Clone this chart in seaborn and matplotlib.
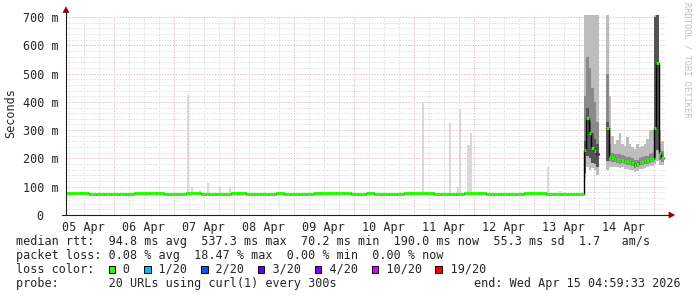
import matplotlib
matplotlib.use("Agg")
import matplotlib.pyplot as plt
import numpy as np
import pandas as pd
import seaborn as sns
from matplotlib.patches import Rectangle, Polygon
from matplotlib.lines import Line2D

nan = np.nan

# ---------------- data ----------------
# hours since start of window (2026-04-05 04:59:33), 10 days shown
base_hours = list(range(0, 207, 3))
base_med = [79, 79, 78, 75, 74, 75, 76, 75, 76, 77, 77, 78,
            77, 76, 75, 76, 77, 77, 76, 75, 76, 76, 78, 77,
            76, 74, 75, 76, 77, 76, 75, 75, 76, 77, 77, 78,
            78, 77, 76, 76, 77, 76, 75, 75, 76, 77, 78, 77,
            77, 76, 75, 76, 76, 77, 78, 77, 76, 75, 74, 75,
            76, 77, 78, 77, 76, 75, 76, 75, 75]

# isolated smoke spikes during the quiet period
spike_hours = [48.7, 50.3, 53.6, 56.7, 61.6, 65.6, 142.7, 153.6, 156.7,
               157.6, 160.9, 161.9, 192.7, 197.6]
spike_tops = [424, 100, 88, 113, 100, 100, 397, 324, 100, 374, 247, 291, 171, 85]

# hourly bins of the disturbed period
post_hours = list(range(207, 239))
post_med = [230, 343, 290, 237, 227, 215, nan, nan, nan, 307,
            204, 200, 198, 196, 194, 196, 192, 190, 188, 185, 177, 180,
            187, 189, 191, 193, 197, 199,
            307, 538, 219, 200]
post_lo = [130, 170, 160, 165, 160, 140, nan, nan, nan, 160,
           168, 170, 168, 168, 166, 168, 164, 162, 160, 158, 152, 156,
           162, 164, 166, 168, 172, 172,
           180, 190, 175, 178]
post_q1 = [175, 250, 220, 205, 200, 185, nan, nan, nan, 220,
           190, 188, 186, 184, 182, 184, 180, 178, 176, 173, 166, 169,
           175, 177, 179, 181, 185, 187,
           260, 300, 195, 188]
post_q3 = [420, 560, 520, 450, 400, 330, nan, nan, nan, 500,
           250, 218, 214, 214, 214, 212, 208, 206, 204, 200, 194, 196,
           202, 206, 208, 210, 216, 220,
           600, 680, 250, 225]
post_hi = [710, 710, 710, 710, 710, 710, nan, nan, nan, 710,
           420, 280, 250, 265, 290, 250, 245, 275, 250, 240, 235, 250,
           240, 245, 250, 270, 300, 300,
           710, 710, 300, 260]
core_lo = [150, 210, 200, 185, 180, 170, nan, nan, nan, 190] + [nan] * 18 + [200, 230, nan, nan]
core_hi = [260, 380, 330, 290, 270, 250, nan, nan, nan, 330] + [nan] * 18 + [700, 710, nan, nan]
post_loss = [0, 0, 0, 0, 0, 4, 0, 0, 0, 0] + [0] * 18 + [0, 0, 0, 0]

loss_labels = ["0", "1/20", "2/20", "3/20", "4/20", "10/20", "19/20"]
loss_colors = ["#26ff00", "#00b8ff", "#0059ff", "#5e00ff", "#7e00ff", "#dd00ff", "#ff0000"]

day_labels = ["05 Apr", "06 Apr", "07 Apr", "08 Apr", "09 Apr",
              "10 Apr", "11 Apr", "12 Apr", "13 Apr", "14 Apr"]
y_ticks = [0, 100, 200, 300, 400, 500, 600, 700]
y_labels = ["0  ", "100 m", "200 m", "300 m", "400 m", "500 m", "600 m", "700 m"]

stats_lines = [
    "median rtt:  94.8 ms avg  537.3 ms max  70.2 ms min  190.0 ms now  55.3 ms sd  1.7   am/s",
    "packet loss: 0.08 % avg  18.47 % max  0.00 % min  0.00 % now",
]
probe_line = "probe:       20 URLs using curl(1) every 300s"
end_line = "end: Wed Apr 15 04:59:33 2026"
first_midnight = 19.0075  # hours from window start to 06 Apr 00:00

# ---------------- style ----------------
sns.set_style("white")
MONO = ["DejaVu Sans Mono"]
plt.rcParams["font.family"] = MONO
FS = 8.5

W, H = 697, 297
fig = plt.figure(figsize=(W / 100, H / 100), dpi=100)
fig.patch.set_facecolor("white")
L, R, T, B = 66, 666, 15, 215
ax = fig.add_axes([L / W, 1 - B / H, (R - L) / W, (B - T) / H])
ax.set_facecolor("white")
ax.set_xlim(0, 240)
ax.set_ylim(0, 707)
for s in ax.spines.values():
    s.set_visible(False)

dot = (0, (1.4, 1.4))
# grid
mids = [first_midnight + 24 * k for k in range(10)]
six = [first_midnight - 18 + 6 * j for j in range(41)]
for x in six:
    if 0 < x < 240 and all(abs(x - m) > 0.1 for m in mids):
        ax.vlines(x, 0, 700, color="#dedede", lw=0.72, ls=dot, zorder=0)
for y in range(20, 701, 20):
    if y % 100:
        ax.hlines(y, 0, 240, color="#dedede", lw=0.72, ls=dot, zorder=0)
for x in mids:
    ax.vlines(x, 0, 700, color="#e8c0c0", lw=0.72, ls=dot, zorder=0.5)
for y in range(100, 701, 100):
    ax.hlines(y, 0, 240, color="#e8c0c0", lw=0.72, ls=dot, zorder=0.5)

# smoke
ax.bar(spike_hours, np.array(spike_tops) - 78, bottom=78, width=1.0,
       color="#d8d8d8", linewidth=0, zorder=2)
lo = np.array(post_lo, float); hi = np.array(post_hi, float)
q1 = np.array(post_q1, float); q3 = np.array(post_q3, float)
cl = np.array(core_lo, float); ch = np.array(core_hi, float)
ax.bar(post_hours, hi - lo, bottom=lo, width=1.0, align="edge", color="#bdbdbd", linewidth=0, zorder=2)
ax.bar(post_hours, q3 - q1, bottom=q1, width=1.0, align="edge", color="#8a8a8a", linewidth=0, zorder=2.1)
ax.bar(post_hours, ch - cl, bottom=cl, width=1.0, align="edge", color="#555555", linewidth=0, zorder=2.2)

# median: black step connectors
seg0_h = base_hours + post_hours[:6] + [213]
seg0_v = base_med + post_med[:6] + [post_med[5]]
seg1_h = post_hours[9:] + [239]
seg1_v = post_med[9:] + [post_med[-1]]
df = pd.DataFrame({"h": seg0_h + seg1_h, "ms": seg0_v + seg1_v,
                   "seg": [0] * len(seg0_h) + [1] * len(seg1_h)})
sns.lineplot(data=df, x="h", y="ms", units="seg", estimator=None, color="black",
             lw=1.0, drawstyle="steps-post", ax=ax, zorder=3, legend=False)
# green (loss coloured) plateaus
ax.hlines(base_med, base_hours, np.array(base_hours) + 3, colors=loss_colors[0], lw=2.2, zorder=4)
pm = np.array(post_med, float)
ok = ~np.isnan(pm)
ax.hlines(pm[ok], np.array(post_hours)[ok], np.array(post_hours)[ok] + 1,
          colors=[loss_colors[i] for i, o in zip(post_loss, ok) if o], lw=2.2, zorder=4)

ax.set_xlabel(""); ax.set_ylabel("")
ax.set_xticks([m - 12 for m in mids])
ax.set_xticklabels(day_labels, fontsize=FS, family=MONO)
ax.tick_params(axis="x", length=0, pad=4)
ax.set_yticks(y_ticks)
ax.set_yticklabels(y_labels, fontsize=FS, family=MONO)
ax.tick_params(axis="y", length=3, width=0.7, color="#606060", pad=2.2, direction="out")


def P(x, y):
    return (x / W, 1 - y / H)


# axes lines and arrows
fig.add_artist(Line2D([P(66, 215)[0], P(66, 11)[0]], [P(66, 215)[1], P(66, 11)[1]],
                      color="#202020", lw=0.8, transform=fig.transFigure))
fig.add_artist(Line2D([P(62, 215)[0], P(670, 215)[0]], [P(62, 215)[1], P(670, 215)[1]],
                      color="#202020", lw=0.8, transform=fig.transFigure))
fig.add_artist(Polygon([P(63, 12.5), P(69, 12.5), P(66, 7)], closed=True,
                       fc="#a00000", ec="#a00000", lw=0.5, transform=fig.transFigure))
fig.add_artist(Polygon([P(669, 212), P(669, 218), P(674.5, 215)], closed=True,
                       fc="#a00000", ec="#a00000", lw=0.5, transform=fig.transFigure))

# texts
fig.text(*P(11, 113), "Seconds", rotation=90, ha="center", va="center", fontsize=FS, family=MONO)
fig.text(*P(687, 60), "RRDTOOL / TOBI OETIKER", rotation=270, ha="center", va="center",
         fontsize=6.3, color="#c0c0c0", family=MONO)

X0, CW = 16, 7.1
ys = [241.7, 255.0, 269.3, 283.3]
for line, y in zip(stats_lines, ys[:2]):
    fig.text(*P(X0, y), line, ha="left", va="center", fontsize=FS, family=MONO)

loss_str = "loss color:  "
box_idx = []
for lab in loss_labels:
    box_idx.append(len(loss_str))
    loss_str += "  " + lab + "  "
fig.text(*P(X0, ys[2]), loss_str.rstrip(), ha="left", va="center", fontsize=FS, family=MONO)
for c, col in zip(box_idx, loss_colors):
    x = X0 + c * CW + 0.5
    fig.add_artist(Rectangle(P(x, 273.2), 6.5 / W, 7.5 / H, transform=fig.transFigure,
                             fc=col, ec="black", lw=0.7))

fig.text(*P(X0, ys[3]), probe_line, ha="left", va="center", fontsize=FS, family=MONO)
fig.text(*P(681, ys[3]), end_line, ha="right", va="center", fontsize=FS, family=MONO)

fig.savefig("out.png", dpi=100, facecolor="white")
